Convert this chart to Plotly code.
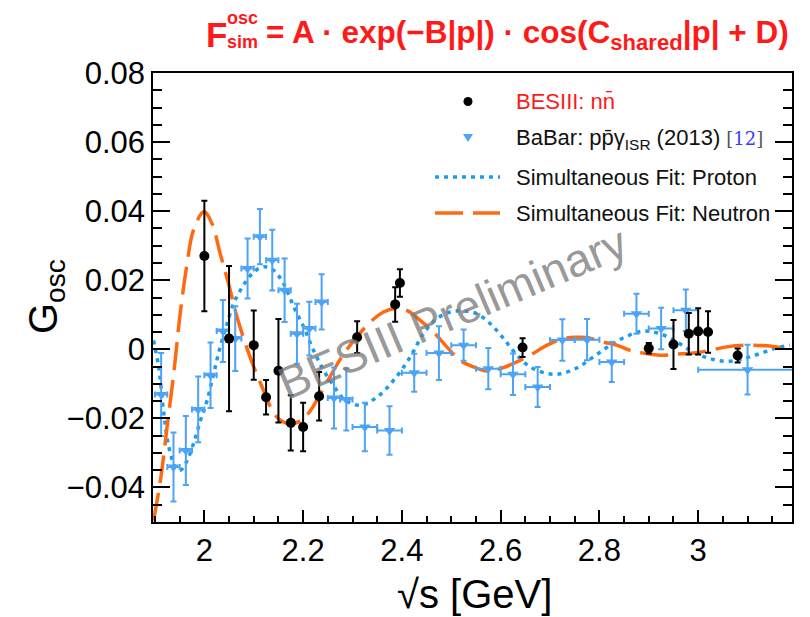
import plotly.graph_objects as go

# ---------------- data ----------------
# BESIII n nbar
bes_x = [2.0, 2.05, 2.1, 2.125, 2.15, 2.175, 2.2, 2.2324, 2.3094, 2.3864, 2.396,
         2.6444, 2.9, 2.95, 2.981, 3.0, 3.02, 3.08]
bes_y = [0.027, 0.0031, 0.0012, -0.0139, -0.0062, -0.0213, -0.0225, -0.0136, 0.0035,
         0.013, 0.0192, 0.0005, 0.0003, 0.0014, 0.0045, 0.0052, 0.005, -0.0018]
bes_e = [0.016, 0.021, 0.010, 0.005, 0.015, 0.008, 0.007, 0.007, 0.0046,
         0.005, 0.004, 0.0027, 0.0015, 0.0071, 0.006, 0.0067, 0.006, 0.002]

# BaBar p pbar gamma_ISR (2013)
babar_x = [1.9125, 1.9375, 1.9625, 1.9875, 2.0125, 2.0375, 2.0625, 2.0875, 2.1125, 2.1375,
           2.1625, 2.1875, 2.2125, 2.2375, 2.2625, 2.2875, 2.325, 2.375, 2.425, 2.475,
           2.525, 2.575, 2.625, 2.675, 2.725, 2.775, 2.825, 2.875, 2.925, 2.975, 3.1]
babar_xe = [0.0125, 0.0125, 0.0125, 0.0125, 0.0125, 0.0125, 0.0125, 0.0125, 0.0125, 0.0125,
            0.0125, 0.0125, 0.0125, 0.0125, 0.0125, 0.0125, 0.025, 0.025, 0.025, 0.025,
            0.025, 0.025, 0.025, 0.025, 0.025, 0.025, 0.025, 0.025, 0.025, 0.025, 0.1]
babar_y = [-0.0131, -0.0341, -0.0293, -0.0174, -0.0075, 0.0053, 0.0031, 0.0234, 0.0326, 0.0258,
           0.0171, 0.0045, 0.006, 0.0137, -0.0141, -0.0145, -0.0225, -0.0235, -0.0068, -0.0011,
           0.0012, -0.0056, -0.0072, -0.0109, 0.0027, 0.0028, -0.0037, 0.0103, 0.006, 0.0113,
           -0.0059]
babar_ye = [0.012, 0.010, 0.010, 0.0095, 0.0095, 0.009, 0.0094, 0.0087, 0.008, 0.0088,
            0.0092, 0.0087, 0.0078, 0.008, 0.0088, 0.009, 0.007, 0.007, 0.0055, 0.0078,
            0.0045, 0.006, 0.006, 0.0058, 0.006, 0.006, 0.0058, 0.0058, 0.006, 0.006,
            0.0072]

# Simultaneous fit curves
neutron_x = [1.897, 1.911, 1.9245, 1.938, 1.951, 1.965, 1.978, 1.999, 2.0155, 2.032,
             2.049, 2.066, 2.083, 2.100, 2.117, 2.134, 2.150, 2.171, 2.194, 2.215,
             2.235, 2.255, 2.280, 2.310, 2.336, 2.363, 2.387, 2.410, 2.437, 2.464,
             2.491, 2.518, 2.545, 2.572, 2.599, 2.626, 2.660, 2.694, 2.727, 2.754,
             2.775, 2.808, 2.835, 2.862, 2.889, 2.923, 2.957, 2.990, 3.024, 3.058,
             3.099, 3.139, 3.180]
neutron_y = [-0.0496, -0.038, -0.0225, -0.0070, 0.0103, 0.0248, 0.0345, 0.0398, 0.0364, 0.0277,
             0.019, 0.0094, 0.0017, -0.0051, -0.0109, -0.0167, -0.0201, -0.0215, -0.0208, -0.0177,
             -0.0128, -0.0078, -0.0018, 0.0038, 0.0079, 0.0108, 0.0118, 0.0113, 0.0084, 0.005,
             0.0007, -0.0032, -0.0051, -0.0063, -0.0056, -0.0041, -0.0017, 0.0012, 0.0031, 0.0035,
             0.0034, 0.0021, 0.0012, -0.0003, -0.0011, -0.0017, -0.0014, -0.0011, -0.0003, 0.0007,
             0.0012, 0.0010, 0.0002]

proton_x = [1.897, 1.9075, 1.918, 1.928, 1.941, 1.951, 1.965, 1.978, 1.992, 2.0055,
            2.019, 2.032, 2.046, 2.059, 2.073, 2.086, 2.100, 2.120, 2.140, 2.1605,
            2.181, 2.201, 2.221, 2.2415, 2.262, 2.284, 2.316, 2.350, 2.383, 2.417,
            2.444, 2.471, 2.498, 2.525, 2.552, 2.579, 2.606, 2.633, 2.660, 2.694,
            2.721, 2.754, 2.788, 2.822, 2.856, 2.889, 2.923, 2.957, 2.990, 3.024,
            3.058, 3.092, 3.126, 3.159, 3.186]
proton_y = [0.0026, -0.0051, -0.0186, -0.0283, -0.034, -0.0351, -0.0322, -0.0273, -0.0206, -0.0148,
            -0.007, 0.0007, 0.0074, 0.0132, 0.0171, 0.02, 0.0224, 0.0239, 0.0229, 0.019,
            0.0123, 0.0065, -0.0003, -0.0061, -0.0106, -0.0146, -0.0162, -0.0138, -0.009, -0.0022,
            0.0046, 0.0089, 0.0108, 0.0111, 0.0103, 0.0074, 0.0031, -0.0017, -0.0051, -0.0070,
            -0.0071, -0.0054, -0.0022, 0.0012, 0.0038, 0.0053, 0.0045, 0.0021, -0.0008, -0.0027,
            -0.0035, -0.0027, -0.0012, 0.0004, 0.0012]

x_tickvals = [2.0, 2.2, 2.4, 2.6, 2.8, 3.0]
x_ticktext = ["2", "2.2", "2.4", "2.6", "2.8", "3"]
y_tickvals = [-0.04, -0.02, 0.0, 0.02, 0.04, 0.06, 0.08]
y_ticktext = ["\u22120.04", "\u22120.02", "0", "0.02", "0.04", "0.06", "0.08"]

# ---------------- styling ----------------
W, H = 810, 617
ML, MR, MT, MB = 153, 18, 73, 95
FONT = "Liberation Sans, Arial, Helvetica, sans-serif"
BLUE_PTS = "#4da3f5"
BLUE_FIT = "#1a9cf0"
ORANGE = "#ff6a10"
RED = "#ff1a1a"


def pxx(px):
    return (px - ML) / (W - ML - MR)


def pyy(py):
    return (H - MB - py) / (H - MT - MB)


fig = go.Figure()

fig.add_trace(go.Scatter(
    x=proton_x, y=proton_y, mode="lines", line=dict(color=BLUE_FIT, width=3.5, dash="4px,5px", shape="spline"),
    showlegend=False, hoverinfo="skip"))
fig.add_trace(go.Scatter(
    x=neutron_x, y=neutron_y, mode="lines", line=dict(color=ORANGE, width=3.5, dash="28px,10px", shape="spline"),
    showlegend=False, hoverinfo="skip"))
fig.add_trace(go.Scatter(
    x=babar_x, y=babar_y, mode="markers",
    marker=dict(symbol="triangle-down", size=10, color=BLUE_PTS),
    error_y=dict(type="data", array=babar_ye, color=BLUE_PTS, thickness=2, width=3),
    error_x=dict(type="data", array=babar_xe, color=BLUE_PTS, thickness=2, width=3),
    showlegend=False))
fig.add_trace(go.Scatter(
    x=bes_x, y=bes_y, mode="markers",
    marker=dict(symbol="circle", size=10, color="black"),
    error_y=dict(type="data", array=bes_e, color="black", thickness=2, width=3),
    showlegend=False))

axis_common = dict(showgrid=False, zeroline=False, showline=True, linecolor="black", linewidth=1.5,
                   ticks="inside", tickcolor="black", tickwidth=1.5,
                   tickfont=dict(family=FONT, size=31, color="black"))
fig.update_xaxes(range=[1.896, 3.19], tickvals=x_tickvals, ticktext=x_ticktext, ticklen=12,
                 mirror=True,
                 minor=dict(dtick=0.05, tick0=2.0, ticklen=6, ticks="inside", tickcolor="black", tickwidth=1.5),
                 **axis_common)
fig.update_yaxes(range=[-0.05, 0.08], tickvals=y_tickvals, ticktext=y_ticktext, ticklen=17,
                 mirror="ticks",
                 minor=dict(dtick=0.005, tick0=0.0, ticklen=9, ticks="inside", tickcolor="black", tickwidth=1.5),
                 **axis_common)

annotations = []
shapes = []

# title
annotations += [
    dict(text="<b>F</b>", x=pxx(204), y=pyy(35), xanchor="left", yanchor="middle",
         font=dict(family=FONT, size=35, color=RED)),
    dict(text="<b>osc</b>", x=pxx(225), y=pyy(18), xanchor="left", yanchor="middle",
         font=dict(family=FONT, size=18, color=RED)),
    dict(text="<b>sim</b>", x=pxx(225), y=pyy(42), xanchor="left", yanchor="middle",
         font=dict(family=FONT, size=18, color=RED)),
    dict(text="<b>= A \u00b7 exp(\u2212B|p|) \u00b7 cos(C<sub>shared</sub>|p| + D)</b>",
         x=pxx(264), y=pyy(35), xanchor="left", yanchor="middle",
         font=dict(family=FONT, size=31.5, color=RED)),
]

# axis titles
annotations += [
    dict(text="G<sub>osc</sub>", x=pxx(46), y=pyy(297), textangle=-90, xanchor="center", yanchor="middle",
         font=dict(family=FONT, size=40, color="black")),
    dict(text="\u221As [GeV]", x=pxx(474), y=pyy(594), xanchor="center", yanchor="middle",
         font=dict(family=FONT, size=40, color="black")),
]

# watermark
annotations.append(dict(text="BESIII Preliminary", x=pxx(452), y=pyy(313), textangle=-23,
                        xanchor="center", yanchor="middle",
                        font=dict(family=FONT, size=46, color="rgba(125,125,125,0.8)")))

# legend (manual)
LX = 514
annotations += [
    dict(text="BESIII: nn\u0304", x=pxx(LX), y=pyy(101), xanchor="left", yanchor="middle",
         font=dict(family=FONT, size=22, color=RED)),
    dict(text="BaBar: pp\u0304\u03b3<sub>ISR</sub> (2013) <span style='font-family:DejaVu Serif;font-size:18px;color:#555'>[<span style='color:#3b3bff'>12</span>]</span>",
         x=pxx(LX), y=pyy(139), xanchor="left", yanchor="middle",
         font=dict(family=FONT, size=22, color="#111")),
    dict(text="Simultaneous Fit: Proton", x=pxx(LX), y=pyy(177), xanchor="left", yanchor="middle",
         font=dict(family=FONT, size=22, color="#111")),
    dict(text="Simultaneous Fit: Neutron", x=pxx(LX), y=pyy(213), xanchor="left", yanchor="middle",
         font=dict(family=FONT, size=22, color="#111")),
]
for a in annotations:
    a.update(xref="paper", yref="paper", showarrow=False)

shapes += [
    dict(type="circle", xref="paper", yref="paper", x0=pxx(463.5), x1=pxx(472.5), y0=pyy(97), y1=pyy(106),
         fillcolor="black", line=dict(width=0)),
    dict(type="path", xref="paper", yref="paper",
         path="M {a},{b} L {c},{b} L {d},{e} Z".format(a=pxx(463), b=pyy(134), c=pxx(473), d=pxx(468), e=pyy(142)),
         fillcolor=BLUE_PTS, line=dict(width=0)),
    dict(type="line", xref="paper", yref="paper", x0=pxx(435), x1=pxx(500), y0=pyy(177), y1=pyy(177),
         line=dict(color=BLUE_FIT, width=3.5, dash="4px,5px")),
    dict(type="line", xref="paper", yref="paper", x0=pxx(435), x1=pxx(500), y0=pyy(213), y1=pyy(213),
         line=dict(color=ORANGE, width=3.5, dash="28px,10px")),
]

fig.update_layout(width=W, height=H, margin=dict(l=ML, r=MR, t=MT, b=MB),
                  paper_bgcolor="white", plot_bgcolor="white", showlegend=False,
                  annotations=annotations, shapes=shapes)

fig.write_html("out.html")
